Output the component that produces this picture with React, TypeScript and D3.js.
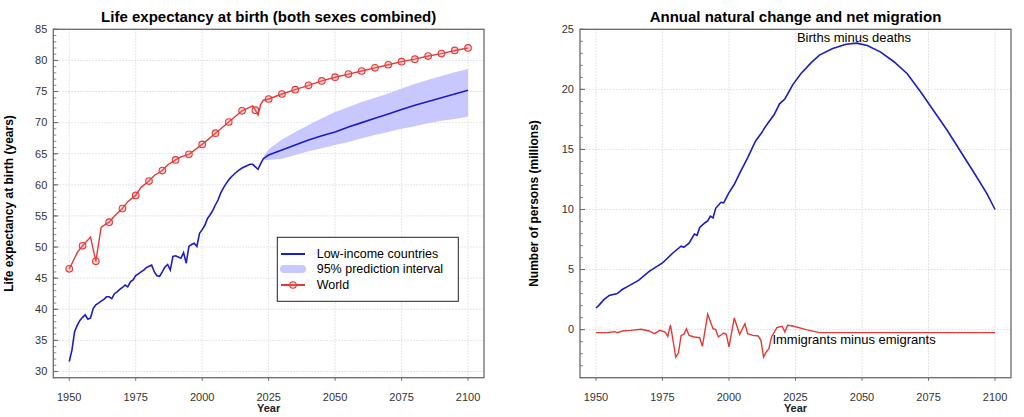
import React from 'react'
import * as d3 from 'd3'

// Life expectancy, low-income countries (history + median projection)
const lowIncome: [number, number][] = [
  [1950, 31.6], [1951, 33.4], [1952, 36.4], [1953, 37.4], [1954, 38.2], [1955, 38.7],
  [1956, 39.1], [1957, 38.4], [1958, 38.6], [1959, 40.1], [1960, 40.7], [1961, 41.0],
  [1962, 41.3], [1963, 41.6], [1964, 42.0], [1965, 42.0], [1966, 41.7], [1967, 42.5],
  [1968, 42.8], [1969, 43.2], [1970, 43.5], [1971, 43.9], [1972, 43.6], [1973, 44.4],
  [1974, 44.7], [1975, 45.4], [1976, 45.7], [1977, 46.0], [1978, 46.3], [1979, 46.7],
  [1980, 46.9], [1981, 47.1], [1982, 46.0], [1983, 45.4], [1984, 45.3], [1985, 46.0],
  [1986, 46.8], [1987, 47.2], [1988, 46.3], [1989, 48.5], [1990, 48.6], [1991, 48.4],
  [1992, 48.2], [1993, 49.1], [1994, 47.4], [1995, 50.1], [1996, 50.4], [1997, 50.6],
  [1998, 50.1], [1999, 52.2], [2000, 52.8], [2001, 53.5], [2002, 54.6], [2003, 55.2],
  [2004, 55.9], [2005, 56.8], [2006, 57.6], [2007, 58.7], [2008, 59.5], [2009, 60.2],
  [2010, 60.8], [2011, 61.3], [2012, 61.7], [2013, 62.1], [2014, 62.4], [2015, 62.7],
  [2016, 62.9], [2017, 63.1], [2018, 63.3], [2019, 63.3], [2020, 62.9], [2021, 62.5],
  [2022, 63.4], [2023, 64.2], [2024, 64.5], [2025, 64.8], [2030, 65.6], [2035, 66.4],
  [2040, 67.2], [2045, 67.9], [2050, 68.5], [2055, 69.3], [2060, 70.0], [2065, 70.7],
  [2070, 71.4], [2075, 72.1], [2080, 72.8], [2085, 73.4], [2090, 74.0], [2095, 74.6],
  [2100, 75.2],
]

// 95% prediction interval: [year, lower, upper]
const interval95: [number, number, number][] = [
  [2023, 64.0, 64.5], [2025, 64.0, 65.7], [2030, 64.2, 67.3], [2035, 64.8, 68.5],
  [2040, 65.4, 69.6], [2045, 65.9, 70.7], [2050, 66.4, 71.7], [2055, 66.9, 72.5],
  [2060, 67.5, 73.3], [2065, 68.0, 74.0], [2070, 68.5, 74.7], [2075, 69.0, 75.5],
  [2080, 69.4, 76.2], [2085, 69.9, 76.9], [2090, 70.3, 77.5], [2095, 70.6, 78.1],
  [2100, 71.0, 78.6],
]

// Life expectancy, world
const world: [number, number][] = [
  [1950, 46.5], [1952, 48.2], [1953, 49.1], [1955, 50.2], [1958, 51.6], [1960, 47.7],
  [1962, 53.2], [1965, 54.0], [1967, 55.0], [1970, 56.2], [1972, 57.3], [1975, 58.3],
  [1977, 59.6], [1980, 60.6], [1982, 61.5], [1985, 62.3], [1987, 63.2], [1990, 64.0],
  [1992, 64.5], [1995, 64.9], [2000, 66.5], [2005, 68.3], [2010, 70.1], [2015, 71.9],
  [2019, 72.7], [2020, 72.0], [2021, 71.2], [2022, 72.9], [2023, 73.6], [2025, 73.8],
  [2030, 74.6], [2035, 75.3], [2040, 76.0], [2045, 76.7], [2050, 77.3], [2055, 77.8],
  [2060, 78.3], [2065, 78.8], [2070, 79.3], [2075, 79.8], [2080, 80.2], [2085, 80.7],
  [2090, 81.1], [2095, 81.6], [2100, 82.0],
]

// Births minus deaths (millions)
const naturalChange: [number, number][] = [
  [1950, 1.8], [1951, 2.0], [1953, 2.5], [1955, 2.85], [1958, 3.0], [1960, 3.36],
  [1962, 3.6], [1966, 4.1], [1970, 4.85], [1975, 5.55], [1979, 6.4], [1982, 6.95],
  [1983, 6.85], [1985, 7.2], [1987, 7.95], [1988, 7.85], [1989, 8.5], [1991, 8.9],
  [1992, 9.05], [1993, 9.45], [1994, 9.3], [1995, 10.1], [1997, 10.6], [1998, 10.55],
  [2000, 11.4], [2002, 12.1], [2004, 13.0], [2007, 14.3], [2010, 15.7], [2012, 16.3],
  [2014, 17.0], [2017, 17.9], [2019, 18.8], [2021, 19.2], [2024, 20.4], [2027, 21.3],
  [2031, 22.25], [2034, 22.85], [2039, 23.4], [2044, 23.75], [2048, 23.85], [2052, 23.65],
  [2057, 23.1], [2062, 22.3], [2067, 21.3], [2072, 19.8], [2077, 18.2], [2082, 16.6],
  [2087, 14.85], [2092, 13.1], [2097, 11.3], [2100, 10.0],
]

// Immigrants minus emigrants (millions)
const netMigration: [number, number][] = [
  [1950, -0.25], [1954, -0.25], [1957, -0.17], [1958, -0.25], [1960, -0.11], [1963, -0.06],
  [1967, 0.03], [1970, -0.11], [1972, -0.33], [1974, -0.06], [1976, -0.2], [1977, -0.56],
  [1978, 0.39], [1980, -2.28], [1981, -1.95], [1982, -0.48], [1983, -0.39], [1984, 0.08],
  [1985, -0.48], [1987, -0.61], [1989, -0.67], [1990, -1.39], [1992, 1.28], [1994, 0.08],
  [1995, 0], [1996, -0.61], [1998, -0.28], [1999, -0.39], [2000, -1.44], [2002, 0.97],
  [2004, -0.39], [2006, 0.5], [2007, -0.33], [2009, -0.48], [2011, -0.53], [2012, -0.89],
  [2013, -2.28], [2014, -1.86], [2015, -1.58], [2016, -0.61], [2018, 0.17], [2020, 0.28],
  [2021, -0.2], [2022, 0.36], [2024, 0.3], [2029, 0], [2034, -0.25], [2100, -0.25],
]

const yearTicks = [1950, 1975, 2000, 2025, 2050, 2075, 2100]
const lifeTicks = [30, 35, 40, 45, 50, 55, 60, 65, 70, 75, 80, 85]
const personTicks = [0, 5, 10, 15, 20, 25]

const FONT = 'Liberation Sans, Arial, Helvetica, sans-serif'
const BLUE = '#1c1cc4'
const RED = '#e23a36'
const BAND = '#c8c8ff'
const TOP = 29.3
const BOTTOM = 377.7

type PanelProps = {
  left: number
  right: number
  yDomain: [number, number]
  yTicks: number[]
  title: string
  yLabel: string
  labelX: number
  children: (x: d3.ScaleLinear<number, number>, y: d3.ScaleLinear<number, number>) => React.ReactNode
}

function Panel({ left, right, yDomain, yTicks, title, yLabel, labelX, children }: PanelProps) {
  const x = d3.scaleLinear().domain([1944, 2106]).range([left, right])
  const y = d3.scaleLinear().domain(yDomain).range([BOTTOM, TOP])
  const minor = d3.range(Math.ceil(yDomain[0]), Math.floor(yDomain[1]) + 1)
  const cx = (left + right) / 2
  const clipId = `clip-${Math.round(left)}`
  return (
    <g>
      <clipPath id={clipId}>
        <rect x={left} y={TOP} width={right - left} height={BOTTOM - TOP} />
      </clipPath>
      {/* grid */}
      {yearTicks.map(t => (
        <line key={'gx' + t} x1={x(t)} x2={x(t)} y1={TOP} y2={BOTTOM}
          stroke="#d4d4d4" strokeWidth={0.8} strokeDasharray="1.5,1.5" />
      ))}
      {yTicks.map(t => (
        <line key={'gy' + t} x1={left} x2={right} y1={y(t)} y2={y(t)}
          stroke="#d4d4d4" strokeWidth={0.8} strokeDasharray="1.5,1.5" />
      ))}
      <g clipPath={`url(#${clipId})`}>{children(x, y)}</g>
      {/* frame */}
      <rect x={left} y={TOP} width={right - left} height={BOTTOM - TOP}
        fill="none" stroke="#6a6a6a" strokeWidth={1.3} />
      {/* y ticks */}
      {minor.map(t => (
        <line key={'my' + t} x1={left} x2={left + 3} y1={y(t)} y2={y(t)} stroke="#6a6a6a" strokeWidth={0.8} />
      ))}
      {yTicks.map(t => (
        <g key={'ty' + t}>
          <line x1={left} x2={left + 5} y1={y(t)} y2={y(t)} stroke="#6a6a6a" strokeWidth={1} />
          <text x={left - 6} y={y(t)} dy="0.35em" textAnchor="end" fontSize={11}
            fill="#333" fontFamily={FONT}>{t}</text>
        </g>
      ))}
      {/* x ticks */}
      {yearTicks.map(t => (
        <g key={'tx' + t}>
          <line x1={x(t)} x2={x(t)} y1={BOTTOM} y2={BOTTOM + 3} stroke="#6a6a6a" strokeWidth={1} />
          <text x={x(t)} y={400.5} textAnchor="middle" fontSize={11} fill="#333" fontFamily={FONT}>{t}</text>
        </g>
      ))}
      <text x={cx} y={22} textAnchor="middle" fontSize={15} fontWeight="bold" fontFamily={FONT}>{title}</text>
      <text x={cx} y={412} textAnchor="middle" fontSize={11} fontWeight="bold" fill="#222" fontFamily={FONT}>Year</text>
      <text transform={`translate(${labelX},${(TOP + BOTTOM) / 2}) rotate(-90)`} textAnchor="middle"
        fontSize={12} fontWeight="bold" fontFamily={FONT}>{yLabel}</text>
    </g>
  )
}

export default function App() {
  const line = (x: d3.ScaleLinear<number, number>, y: d3.ScaleLinear<number, number>) =>
    d3.line<[number, number]>().x(d => x(d[0])).y(d => y(d[1]))

  return (
    <svg width={1024} height={417} style={{ position: 'absolute', left: 0, top: 0, background: '#fff' }}>
      <Panel left={53.3} right={484} yDomain={[29, 85]} yTicks={lifeTicks}
        title="Life expectancy at birth (both sexes combined)"
        yLabel="Life expectancy at birth (years)" labelX={13}>
        {(x, y) => {
          const area = d3.area<[number, number, number]>()
            .x(d => x(d[0])).y0(d => y(d[1])).y1(d => y(d[2]))
          return (
            <>
              <path d={area(interval95) || ''} fill={BAND} />
              <path d={line(x, y)(lowIncome) || ''} fill="none" stroke={BLUE} strokeWidth={1.6} />
              <path d={line(x, y)(world) || ''} fill="none" stroke={RED} strokeWidth={1.4} />
              {world.filter(d => d[0] % 5 === 0).map(d => (
                <circle key={d[0]} cx={x(d[0])} cy={y(d[1])} r={3.3}
                  fill="rgba(255,120,120,0.3)" stroke={RED} strokeWidth={1.1} />
              ))}
            </>
          )
        }}
      </Panel>

      {/* legend */}
      <g fontFamily={FONT} fontSize={12.5}>
        <rect x={277.3} y={237.3} width={181} height={64} fill="#fff" stroke="#222" strokeWidth={1} />
        <line x1={281} x2={305} y1={254} y2={254} stroke={BLUE} strokeWidth={2} />
        <text x={316.7} y={254} dy="0.35em">Low-income countries</text>
        <line x1={284} x2={302} y1={269} y2={269} stroke={BAND} strokeWidth={8} strokeLinecap="round" />
        <text x={316.7} y={269} dy="0.35em">95% prediction interval</text>
        <line x1={281} x2={305} y1={285} y2={285} stroke={RED} strokeWidth={2} />
        <circle cx={293} cy={285} r={3.3} fill="rgba(255,120,120,0.3)" stroke={RED} strokeWidth={1.1} />
        <text x={316.7} y={285} dy="0.35em">World</text>
      </g>

      <Panel left={580} right={1011} yDomain={[-4, 25]} yTicks={personTicks}
        title="Annual natural change and net migration"
        yLabel="Number of persons (millions)" labelX={538}>
        {(x, y) => (
          <>
            <path d={line(x, y)(naturalChange) || ''} fill="none" stroke={BLUE} strokeWidth={1.6} />
            <path d={line(x, y)(netMigration) || ''} fill="none" stroke={RED} strokeWidth={1.4} />
            <text x={x(2047)} y={y(24.05)} dy="0.1em" textAnchor="middle" fontSize={13} fontFamily={FONT}>
              Births minus deaths
            </text>
            <text x={x(2047)} y={y(-0.83)} dy="0.35em" textAnchor="middle" fontSize={13} fontFamily={FONT}>
              Immigrants minus emigrants
            </text>
          </>
        )}
      </Panel>
    </svg>
  )
}
